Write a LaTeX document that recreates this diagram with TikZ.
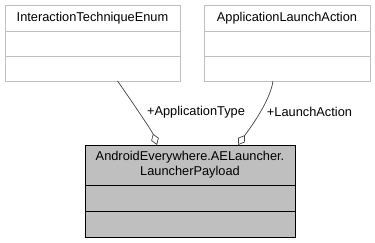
\documentclass[tikz,border=0pt]{standalone}
\usepackage{fontspec}
\setmainfont{Liberation Sans}
\usepackage{xcolor}
\usetikzlibrary{arrows.meta,positioning}

\definecolor{boxgray}{HTML}{C0C0C0}
\definecolor{linkgray}{HTML}{404040}
\definecolor{payloadgray}{HTML}{BFBFBF}
\newcommand{\umlfont}{\fontsize{12.8}{15}\selectfont}

\tikzset{
  classpart/.style={draw=boxgray,fill=white,line width=0.8pt,inner sep=0pt,outer sep=0pt,font=\umlfont},
  mainpart/.style={draw=black,fill=payloadgray,line width=0.8pt,inner sep=0pt,outer sep=0pt,font=\umlfont,align=center},
  aggregation/.style={draw=linkgray,line width=0.7pt,-{Diamond[open,fill=white,length=12pt,width=8pt]}},
  rolelabel/.style={font=\umlfont,inner sep=0pt}
}

\begin{document}
\begin{tikzpicture}[x=1pt,y=1pt]
  \useasboundingbox (0,0) rectangle (375,-243);
  % enum class
  \node[classpart,minimum width=175pt,minimum height=26pt,anchor=north west] (enumtitle) at (5,-5) {InteractionTechniqueEnum};
  \node[classpart,minimum width=175pt,minimum height=25pt,below=0pt of enumtitle] (enumattr) {};
  \node[classpart,minimum width=175pt,minimum height=25pt,below=0pt of enumattr] (enumops) {};
  % action class
  \node[classpart,minimum width=166pt,minimum height=26pt,anchor=north west] (actiontitle) at (204,-5) {ApplicationLaunchAction};
  \node[classpart,minimum width=166pt,minimum height=25pt,below=0pt of actiontitle] (actionattr) {};
  \node[classpart,minimum width=166pt,minimum height=25pt,below=0pt of actionattr] (actionops) {};
  % payload class
  \node[mainpart,minimum width=210pt,minimum height=40pt,anchor=north west] (payloadtitle) at (85,-145) {AndroidEverywhere.AELauncher.\\LauncherPayload};
  \node[mainpart,minimum width=210pt,minimum height=26pt,below=0pt of payloadtitle] (payloadattr) {};
  \node[mainpart,minimum width=210pt,minimum height=26pt,below=0pt of payloadattr] (payloadops) {};

  \draw[aggregation] ([xshift=25pt]enumops.south) .. controls +(12,-17) and +(-5,14) .. ([xshift=-33pt]payloadtitle.north);
  \draw[aggregation] ([xshift=-14pt]actionops.south) .. controls +(-3,-22) and +(7,10) .. ([xshift=48pt]payloadtitle.north);

  \node[rolelabel] (typelabel) at (196,-112) {+ApplicationType};
  \node[rolelabel] (actionlabel) at (309.5,-112) {+LaunchAction};
\end{tikzpicture}
\end{document}
